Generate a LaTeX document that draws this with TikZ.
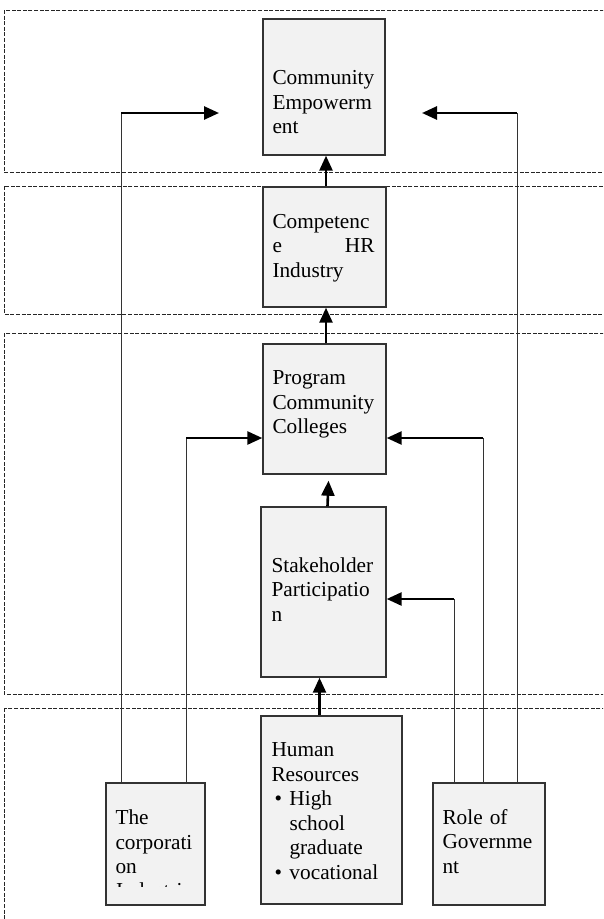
\documentclass[tikz,border=0pt]{standalone}
\usepackage{fontspec}
\setmainfont{Liberation Serif}
\usetikzlibrary{arrows.meta}
\tikzset{
  band/.style     = {draw=black!85, line width=0.9pt, dash pattern=on 4pt off 1.6pt},
  block/.style    = {draw=black!80, line width=1.4pt, fill=black!5, inner sep=0pt},
  blocktxt/.style = {anchor=north west, inner sep=0pt, align=left, text width=112pt,
                     font=\fontsize{21.3}{24.5}\selectfont},
  riser/.style    = {black!80, line width=1.5pt},
  flow/.style     = {-{Triangle[length=15pt,width=13pt]}, black, line width=2.6pt}
}

\begin{document}
\begin{tikzpicture}[x=1pt,y=-1pt]
  \useasboundingbox (0,0) rectangle (603,919);
  \clip (0,0) rectangle (603,919);
  % dashed layers, running off the right edge
  \draw[band] (4,10)  rectangle (615,172);
  \draw[band] (4,186) rectangle (615,314);
  \draw[band] (4,333) rectangle (615,694);
  \draw[band] (4,708) rectangle (615,930);
  % blocks
  \node[block, minimum width=122pt, minimum height=136pt] (ce) at (324,87)    {};
  \node[block, minimum width=123pt, minimum height=120pt] (ch) at (324.5,247) {};
  \node[block, minimum width=123pt, minimum height=130pt] (pc) at (324.5,409) {};
  \node[block, minimum width=125pt, minimum height=170pt] (sp) at (323.5,592) {};
  \node[block, minimum width=141pt, minimum height=188pt] (hr) at (331.5,810) {};
  \node[block, minimum width=99pt,  minimum height=122pt] (ci) at (155.5,844) {};
  \node[block, minimum width=112pt, minimum height=122pt] (rg) at (489,844)   {};
  \node[blocktxt] (ce-t) at ([xshift=10pt,yshift=-24.5pt]ce.north west)
       {\strut\\ Community\\ Empowerm\\ ent};
  \node[blocktxt] (ch-t) at ([xshift=10pt,yshift=-24.5pt]ch.north west)
       {\strut Competenc\\ \leavevmode\hbox to 102pt{e\hfill HR}\\ Industry};
  \node[blocktxt] (pc-t) at ([xshift=10pt,yshift=-24pt]pc.north west)
       {\strut Program\\ Community\\ Colleges};
  \node[blocktxt] (sp-t) at ([xshift=11pt,yshift=-24pt]sp.north west)
       {\strut\\ Stakeholder\\ Participatio\\ n};
  \node[blocktxt] (hr-t) at ([xshift=11pt,yshift=-24pt]hr.north west)
       {\strut Human\\ Resources\\
        \hspace*{3pt}\makebox[15pt][l]{\textbullet}High\\ \hspace*{18pt}school\\
        \hspace*{18pt}graduate\\ \hspace*{3pt}\makebox[15pt][l]{\textbullet}vocational};
  \node[blocktxt] (ci-t) at ([xshift=10pt,yshift=-25pt]ci.north west)
       {\strut The\\ corporati\\ on};
  \node[blocktxt] (rg-t) at ([xshift=10pt,yshift=-24.5pt]rg.north west)
       {\strut Role of\\ Governme\\ nt};
  % last line of the corporation box is cut off
  \begin{scope}
    \clip (107,882.5) rectangle (204,886.5);
    \node[blocktxt, anchor=base west] (ci-cut) at (116,897.5) {Industri};
  \end{scope}
  % feeds from the bottom blocks
  \coordinate (ci-1) at ([xshift=16pt]ci.north west);
  \coordinate (ci-2) at ([xshift=81pt]ci.north west);
  \coordinate (rg-1) at ([xshift=22pt]rg.north west);
  \coordinate (rg-2) at ([xshift=51pt]rg.north west);
  \coordinate (rg-3) at ([xshift=85pt]rg.north west);
  \coordinate (ce-l) at (219,113);
  \coordinate (ce-r) at (422,113);
  \coordinate (pc-l) at ([yshift=-29pt]pc.west);
  \coordinate (pc-r) at ([yshift=-29pt]pc.east);
  \coordinate (sp-r) at ([yshift=-7pt]sp.east);
  \foreach \foot/\tip in {ci-1/ce-l, ci-2/pc-l, rg-1/sp-r, rg-2/pc-r, rg-3/ce-r}
    { \draw[riser] (\foot) -- (\foot |- \tip);
      \draw[flow] (\foot |- \tip) -- (\tip); }
  % the main chain upwards
  \coordinate (hr-o) at ([xshift=-12pt]hr.north);
  \draw[flow] (hr-o) -- (hr-o |- sp.south);
  \draw[flow] ([xshift=4pt]sp.north) -- ([xshift=4pt,yshift=-6pt]pc.south);
  \draw[flow] ([xshift=1.5pt]pc.north) -- ([xshift=1.5pt]ch.south);
  \draw[flow] ([xshift=1.5pt]ch.north) -- ([xshift=2pt]ce.south);
\end{tikzpicture}
\end{document}
